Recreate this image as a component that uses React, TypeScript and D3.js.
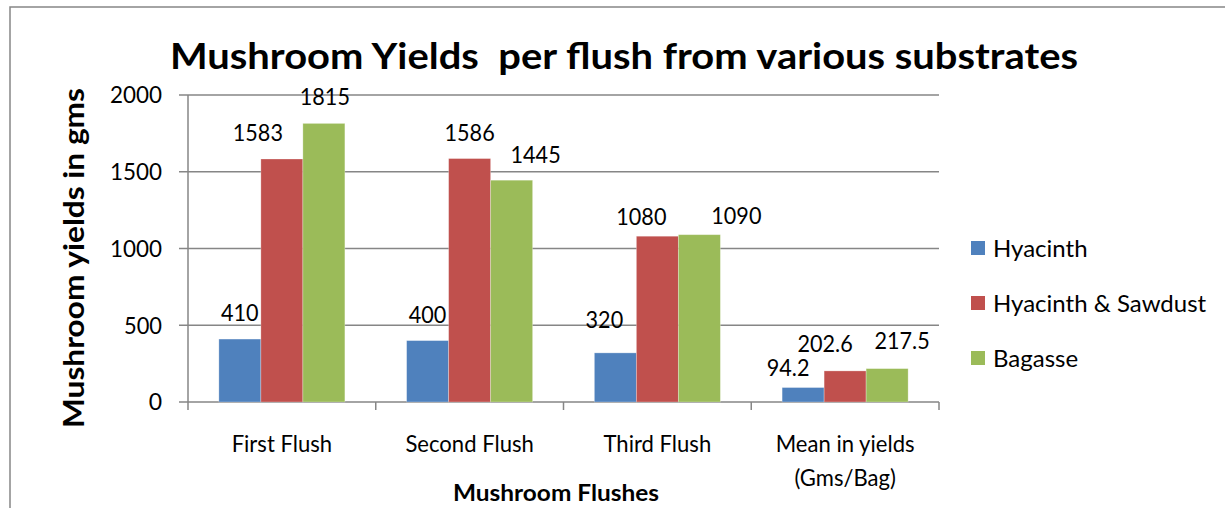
import * as React from 'react';
import * as d3 from 'd3';

// chart data
const categories = ['First Flush', 'Second Flush', 'Third Flush', 'Mean in yields\n(Gms/Bag)'];
const seriesNames = ['Hyacinth', 'Hyacinth & Sawdust', 'Bagasse'];
const hyacinth = [410, 400, 320, 94.2];
const hyacinthSawdust = [1583, 1586, 1080, 202.6];
const bagasse = [1815, 1445, 1090, 217.5];
const yTicks = [0, 500, 1000, 1500, 2000];

// label nudges (px) as placed by hand in the original
const labelNudge = [
    [[0, 0], [0, 1], [-11, -7], [-15, 7]],
    [[-24, 0], [0, 1], [-16, 7], [-20, -1]],
    [[1, 0], [24, 1], [37, 8], [15, -1]],
];

const colors = ['#4F81BD', '#C0504D', '#9BBB59'];
const font = 'Lato, "Open Sans", sans-serif';

const W = 1225, H = 508;
const left = 188, right = 939, top = 95, bottom = 402;

const App: React.FC = () => {
    const series = [hyacinth, hyacinthSawdust, bagasse];

    const y = d3.scaleLinear().domain([0, 2000]).range([bottom, top]);
    const x0 = d3.scaleBand<string>().domain(categories).range([left, right]).padding(0);
    const x1 = d3.scaleBand<string>().domain(seriesNames).range([0, x0.bandwidth()])
        .paddingInner(0).paddingOuter(0.735);

    return (
        <svg width={W} height={H} style={{ position: 'absolute', left: 0, top: 0, background: '#fff' }}>
            {/* outer frame */}
            <rect x={10} y={7} width={W + 20} height={H + 20} fill="none" stroke="#868686" strokeWidth={1.5} />

            <text x={170} y={69} fontFamily={font} fontWeight="bold" fontSize={37} style={{ whiteSpace: 'pre' }}
                textLength={908} lengthAdjust="spacingAndGlyphs" fill="#000">
                {'Mushroom Yields  per flush from various substrates'}
            </text>

            {/* gridlines + y ticks */}
            {yTicks.map(t => (
                <g key={t}>
                    <line x1={left - 9} x2={right} y1={y(t)} y2={y(t)} stroke="#868686" strokeWidth={1.5} />
                    <text x={162} y={y(t)} dy="0.36em" textAnchor="end" fontFamily={font} fontSize={23}
                        textLength={t === 0 ? undefined : t < 1000 ? 38 : 52} lengthAdjust="spacingAndGlyphs" fill="#000">
                        {t}
                    </text>
                </g>
            ))}
            <line x1={left} x2={left} y1={top} y2={bottom} stroke="#868686" strokeWidth={1.5} />

            {/* category ticks */}
            {[...categories.map(c => x0(c) as number), right].map((v, i) => (
                <line key={i} x1={v} x2={v} y1={bottom} y2={bottom + 8} stroke="#868686" strokeWidth={1.5} />
            ))}

            {/* bars */}
            {series.map((vals, si) => (
                <g key={si}>
                    {vals.map((v, ci) => {
                        const bx = (x0(categories[ci]) as number) + (x1(seriesNames[si]) as number);
                        return (
                            <rect key={ci} x={bx} y={y(v)} width={x1.bandwidth()} height={y(0) - y(v)}
                                fill={colors[si]} stroke="rgba(255,255,255,0.35)" strokeWidth={0.8} />
                        );
                    })}
                </g>
            ))}

            {/* value labels */}
            {series.map((vals, si) => (
                <g key={'l' + si}>
                    {vals.map((v, ci) => {
                        const bx = (x0(categories[ci]) as number) + (x1(seriesNames[si]) as number) + x1.bandwidth() / 2;
                        const [dx, dy] = labelNudge[si][ci];
                        return (
                            <text key={ci} x={bx + dx} y={y(v) - 27 + dy} dy="0.36em" textAnchor="middle"
                                fontFamily={font} fontSize={24} fill="#000"
                                transform={`translate(${bx + dx},0) scale(0.9,1) translate(${-(bx + dx)},0)`}>
                                {v}
                            </text>
                        );
                    })}
                </g>
            ))}

            {/* x labels */}
            {categories.map(c => {
                const cx = (x0(c) as number) + x0.bandwidth() / 2;
                return (
                    <text key={c} x={cx} y={452} textAnchor="middle" fontFamily={font} fontSize={24} fill="#000"
                        transform={`translate(${cx},0) scale(0.92,1) translate(${-cx},0)`}>
                        {c.split('\n').map((ln, i) => (
                            <tspan key={i} x={cx} dy={i === 0 ? 0 : 34}>{ln}</tspan>
                        ))}
                    </text>
                );
            })}

            <text x={556} y={501} textAnchor="middle" fontFamily={font} fontWeight="bold" fontSize={23}
                textLength={206} lengthAdjust="spacingAndGlyphs" fill="#000">
                Mushroom Flushes
            </text>

            <text transform="translate(84,258) rotate(-90)" textAnchor="middle" fontFamily={font}
                fontWeight="bold" fontSize={28} textLength={340} lengthAdjust="spacingAndGlyphs" fill="#000">
                Mushroom yields in gms
            </text>

            {/* legend */}
            {seriesNames.map((n, i) => {
                const ly = 248 + i * 55;
                return (
                    <g key={n}>
                        <rect x={971} y={ly - 7} width={14} height={14} fill={colors[i]} />
                        <text x={993} y={ly} dy="0.36em" fontFamily={font} fontSize={24} fill="#000">{n}</text>
                    </g>
                );
            })}
        </svg>
    );
};

export default App;
